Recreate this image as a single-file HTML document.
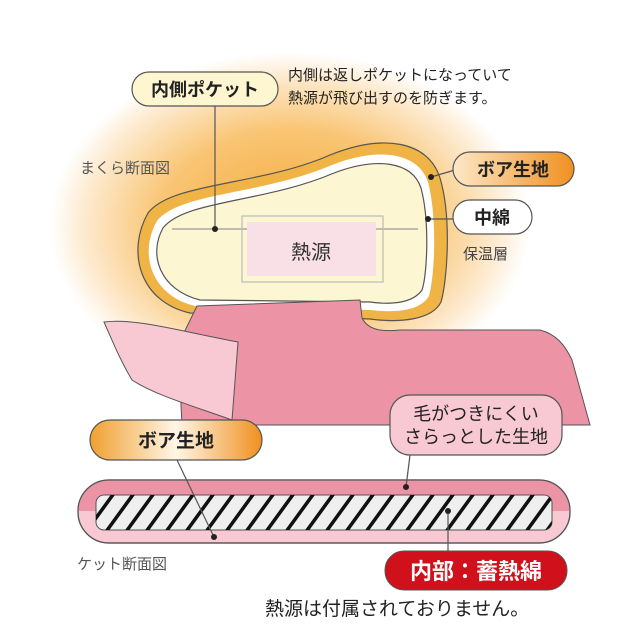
<!DOCTYPE html>
<html><head><meta charset="utf-8"><style>
html,body{margin:0;padding:0;background:#fff;}
svg{display:block;font-family:"Liberation Sans","Noto Sans CJK JP",sans-serif;}
</style></head><body>
<svg width="640" height="629" viewBox="0 0 640 629" xmlns="http://www.w3.org/2000/svg">
<defs>
<radialGradient id="glow" cx="290" cy="225" r="240" gradientUnits="userSpaceOnUse" gradientTransform="translate(290 225) scale(1 0.72) translate(-290 -225)">
<stop offset="0" stop-color="#f6a93a"/>
<stop offset="0.55" stop-color="#f9c574"/>
<stop offset="0.85" stop-color="#fde9cc"/>
<stop offset="1" stop-color="#fff"/>
</radialGradient>
<linearGradient id="og" x1="0" x2="1" y1="0" y2="0">
<stop offset="0" stop-color="#f0a030"/><stop offset="0.5" stop-color="#fff6e6"/><stop offset="1" stop-color="#f09020"/>
</linearGradient>
<linearGradient id="og2" x1="0" x2="1" y1="0" y2="0">
<stop offset="0" stop-color="#fde8c8"/><stop offset="1" stop-color="#f09020"/>
</linearGradient>
<clipPath id="hc"><rect x="96" y="495" width="456" height="35" rx="8"/></clipPath>
</defs>
<rect width="640" height="629" fill="#fff"/>
<ellipse cx="290" cy="225" rx="245" ry="175" fill="url(#glow)"/>
<path d="M190 313 C140 302 126 252 148 213 C172 182 260 186 330 155 C382 134 428 140 440 178 C452 218 447 282 441 302 C432 320 400 323 370 319 Z" fill="#efb445" stroke="#555" stroke-width="1.2"/>
<path d="M195 306 C152 296 138 254 157 221 C180 192 262 195 332 165 C378 147 418 152 428 182 C438 220 434 280 429 296 C420 311 396 313 370 310 Z" fill="#fff"/>
<path d="M200 300 C160 290 148 255 163 228 C185 200 264 203 334 173 C376 157 412 161 421 188 C430 222 427 276 422 290 C413 303 392 305 370 302 Z" fill="#fdf6d2" stroke="#555" stroke-width="1.2"/>
<line x1="172" y1="229" x2="418" y2="229" stroke="#999" stroke-width="1.2"/>
<rect x="242" y="216" width="141" height="66" fill="none" stroke="#bbb" stroke-width="1.2"/>
<rect x="247" y="222" width="129" height="54" fill="#f9e0e6"/>
<text x="311" y="259" font-size="20" text-anchor="middle" fill="#333">熱源</text>
<path d="M197 306 L360 300 L362 318 C368 330 382 332 400 330 L540 330 C556 334 565 345 572 360 L590 425 L182 425 L178 345 Z" fill="#ec94a6" stroke="#555" stroke-width="1"/>
<path d="M104 322 C135 318 175 330 238 342 L232 420 C190 405 155 395 132 380 C120 360 112 340 104 322 Z" fill="#f8c9d3" stroke="#555" stroke-width="1"/>
<line x1="215" y1="106" x2="215" y2="229" stroke="#555" stroke-width="1.2"/>
<circle cx="215" cy="229" r="3" fill="#222"/>
<rect x="132" y="72" width="146" height="34" rx="17" fill="#fdf6d0" stroke="#555" stroke-width="1.2"/>
<text x="205" y="96" font-size="18" text-anchor="middle" fill="#222" font-weight="bold">内側ポケット</text>
<text x="288" y="80" font-size="15" fill="#222">内側は返しポケットになっていて</text>
<text x="288" y="103" font-size="15" fill="#222">熱源が飛び出すのを防ぎます。</text>
<text x="80" y="173" font-size="15" fill="#555">まくら断面図</text>
<line x1="431" y1="177" x2="455" y2="170" stroke="#555" stroke-width="1.2"/>
<circle cx="431" cy="177" r="3" fill="#222"/>
<rect x="453" y="152" width="121" height="34" rx="17" fill="url(#og2)" stroke="#555" stroke-width="1.2"/>
<text x="513" y="176" font-size="18" text-anchor="middle" fill="#222" font-weight="bold">ボア生地</text>
<line x1="428" y1="219" x2="455" y2="219" stroke="#555" stroke-width="1.2"/>
<circle cx="428" cy="219" r="3" fill="#222"/>
<rect x="453" y="200" width="79" height="34" rx="17" fill="#fff" stroke="#555" stroke-width="1.2"/>
<text x="492" y="224" font-size="18" text-anchor="middle" fill="#222" font-weight="bold">中綿</text>
<text x="463" y="259" font-size="15" fill="#444">保温層</text>
<rect x="78" y="480" width="492" height="63" rx="31" fill="#f8c9d3" stroke="#555" stroke-width="1.2"/>
<path d="M78 511 A31 31 0 0 1 109 480 L539 480 A31 31 0 0 1 570 511 Z" fill="#ec94a6"/>
<rect x="78" y="480" width="492" height="63" rx="31" fill="none" stroke="#555" stroke-width="1.2"/>
<rect x="96" y="495" width="456" height="35" rx="8" fill="#efefef" stroke="#555" stroke-width="1"/>
<g clip-path="url(#hc)" stroke="#111" stroke-width="3.5">
<line x1="80" y1="540" x2="120" y2="485"/><line x1="100" y1="540" x2="140" y2="485"/><line x1="120" y1="540" x2="160" y2="485"/><line x1="140" y1="540" x2="180" y2="485"/><line x1="160" y1="540" x2="200" y2="485"/><line x1="180" y1="540" x2="220" y2="485"/><line x1="200" y1="540" x2="240" y2="485"/><line x1="220" y1="540" x2="260" y2="485"/><line x1="240" y1="540" x2="280" y2="485"/><line x1="260" y1="540" x2="300" y2="485"/><line x1="280" y1="540" x2="320" y2="485"/><line x1="300" y1="540" x2="340" y2="485"/><line x1="320" y1="540" x2="360" y2="485"/><line x1="340" y1="540" x2="380" y2="485"/><line x1="360" y1="540" x2="400" y2="485"/><line x1="380" y1="540" x2="420" y2="485"/><line x1="400" y1="540" x2="440" y2="485"/><line x1="420" y1="540" x2="460" y2="485"/><line x1="440" y1="540" x2="480" y2="485"/><line x1="460" y1="540" x2="500" y2="485"/><line x1="480" y1="540" x2="520" y2="485"/><line x1="500" y1="540" x2="540" y2="485"/><line x1="520" y1="540" x2="560" y2="485"/><line x1="540" y1="540" x2="580" y2="485"/>
</g>
<line x1="177" y1="460" x2="214" y2="537" stroke="#555" stroke-width="1.2"/>
<circle cx="214" cy="537" r="3" fill="#222"/>
<rect x="90" y="420" width="172" height="40" rx="20" fill="url(#og)" stroke="#555" stroke-width="1.2"/>
<text x="176" y="447" font-size="19" text-anchor="middle" fill="#222" font-weight="bold">ボア生地</text>
<line x1="410" y1="455" x2="406" y2="487" stroke="#555" stroke-width="1.2"/>
<circle cx="406" cy="487" r="3" fill="#222"/>
<rect x="390" y="395" width="172" height="60" rx="20" fill="#f8c9d3" stroke="#555" stroke-width="1.2"/>
<text x="476" y="420" font-size="18" text-anchor="middle" fill="#222">毛がつきにくい</text>
<text x="476" y="443" font-size="18" text-anchor="middle" fill="#222">さらっとした生地</text>
<line x1="448" y1="511" x2="448" y2="553" stroke="#555" stroke-width="1.2"/>
<circle cx="448" cy="511" r="3" fill="#222"/>
<text x="77" y="569" font-size="15" fill="#555">ケット断面図</text>
<rect x="385" y="551" width="182" height="39" rx="19" fill="#d0111c" stroke="#555" stroke-width="1"/>
<text x="476" y="579" font-size="22" text-anchor="middle" fill="#fff" font-weight="bold">内部：蓄熱綿</text>
<text x="265" y="615" font-size="19" fill="#222">熱源は付属されておりません。</text>
</svg>
</body></html>
